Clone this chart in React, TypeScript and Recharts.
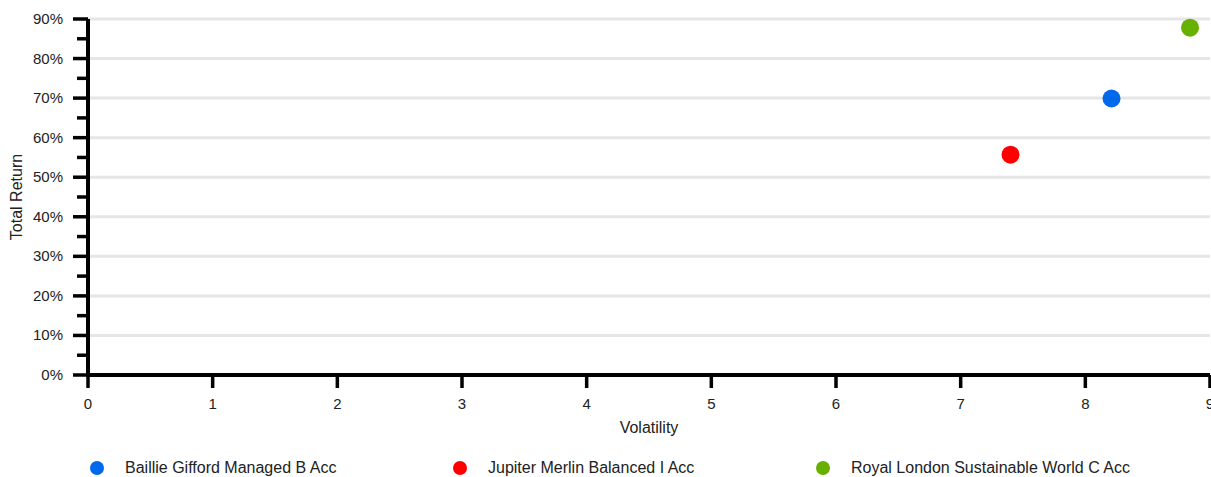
import React from 'react'
import { ScatterChart, Scatter, XAxis, YAxis, ReferenceLine, Label } from 'recharts'

// fund name, colour, volatility, total return (%)
const funds = ['Baillie Gifford Managed B Acc', 'Jupiter Merlin Balanced I Acc', 'Royal London Sustainable World C Acc']
const colors = ['#0068ea', '#ff0000', '#67b000']
const volatility = [8.21, 7.4, 8.84]
const totalReturn = [69.9, 55.7, 87.8]

const xTicks = [0, 1, 2, 3, 4, 5, 6, 7, 8, 9]
const yTicks = [0, 5, 10, 15, 20, 25, 30, 35, 40, 45, 50, 55, 60, 65, 70, 75, 80, 85, 90]
const gridLines = [10, 20, 30, 40, 50, 60, 70, 80, 90]

const FONT = 'Liberation Sans, Arial, sans-serif'
const TEXT = '#222'

const YTick = (props: any) => {
  const { x, y, payload } = props
  const major = payload.value % 10 === 0
  return (
    <g>
      <line x1={x - (major ? 15 : 11)} x2={x} y1={y} y2={y} stroke="#000" strokeWidth={3.5} />
      {major && (
        <text x={x - 25} y={y} dy={5} textAnchor="end" fontSize={15} fontFamily={FONT} fill={TEXT}>
          {payload.value}%
        </text>
      )}
    </g>
  )
}

const XTick = (props: any) => {
  const { x, y, payload } = props
  return (
    <g>
      <line x1={x} x2={x} y1={y} y2={y + 13} stroke="#000" strokeWidth={3.5} />
      <text x={x} y={y + 34} textAnchor="middle" fontSize={15} fontFamily={FONT} fill={TEXT}>
        {payload.value}
      </text>
    </g>
  )
}

export default function App() {
  return (
    <div style={{ position: 'absolute', left: 0, top: 0, width: 1211, height: 477, background: '#fff' }}>
      <ScatterChart width={1211} height={450} margin={{ top: 19, right: 1, left: 0, bottom: 0 }}>
        <XAxis
          type="number"
          dataKey="x"
          domain={[0, 9]}
          ticks={xTicks}
          interval={0}
          height={75}
          tickSize={0}
          tickMargin={0}
          tickLine={false}
          tick={<XTick />}
          axisLine={{ stroke: '#000', strokeWidth: 4 }}
        >
          <Label
            content={(p: any) => (
              <text
                x={p.viewBox.x + p.viewBox.width / 2}
                y={433}
                textAnchor="middle"
                fontSize={16}
                fontFamily={FONT}
                fill={TEXT}
              >
                Volatility
              </text>
            )}
          />
        </XAxis>
        <YAxis
          type="number"
          dataKey="y"
          domain={[0, 90]}
          ticks={yTicks}
          interval={0}
          width={88}
          tickSize={0}
          tickMargin={0}
          tickLine={false}
          tick={<YTick />}
          axisLine={{ stroke: '#000', strokeWidth: 4 }}
        >
          <Label
            content={(p: any) => {
              const cy = p.viewBox.y + p.viewBox.height / 2
              return (
                <text
                  x={22}
                  y={cy}
                  transform={`rotate(-90 22 ${cy})`}
                  textAnchor="middle"
                  fontSize={16}
                  fontFamily={FONT}
                  fill={TEXT}
                >
                  Total Return
                </text>
              )
            }}
          />
        </YAxis>
        {gridLines.map((v) => (
          <ReferenceLine key={v} y={v} stroke="#e6e6e6" strokeWidth={3} />
        ))}
        {funds.map((name, i) => (
          <Scatter
            key={name}
            name={name}
            data={[{ x: volatility[i], y: totalReturn[i] }]}
            fill={colors[i]}
            isAnimationActive={false}
            shape={(p: any) => <circle cx={p.cx} cy={p.cy} r={9} fill={colors[i]} />}
          />
        ))}
      </ScatterChart>
      <div style={{ position: 'absolute', left: 90, top: 459, display: 'flex', fontFamily: FONT, fontSize: 16, color: TEXT }}>
        {funds.map((name, i) => (
          <div key={name} style={{ width: 363, display: 'flex', alignItems: 'center', height: 18 }}>
            <span
              style={{ width: 14, height: 14, borderRadius: 7, background: colors[i], display: 'inline-block', marginRight: 21, flexShrink: 0 }}
            />
            <span>{name}</span>
          </div>
        ))}
      </div>
    </div>
  )
}
